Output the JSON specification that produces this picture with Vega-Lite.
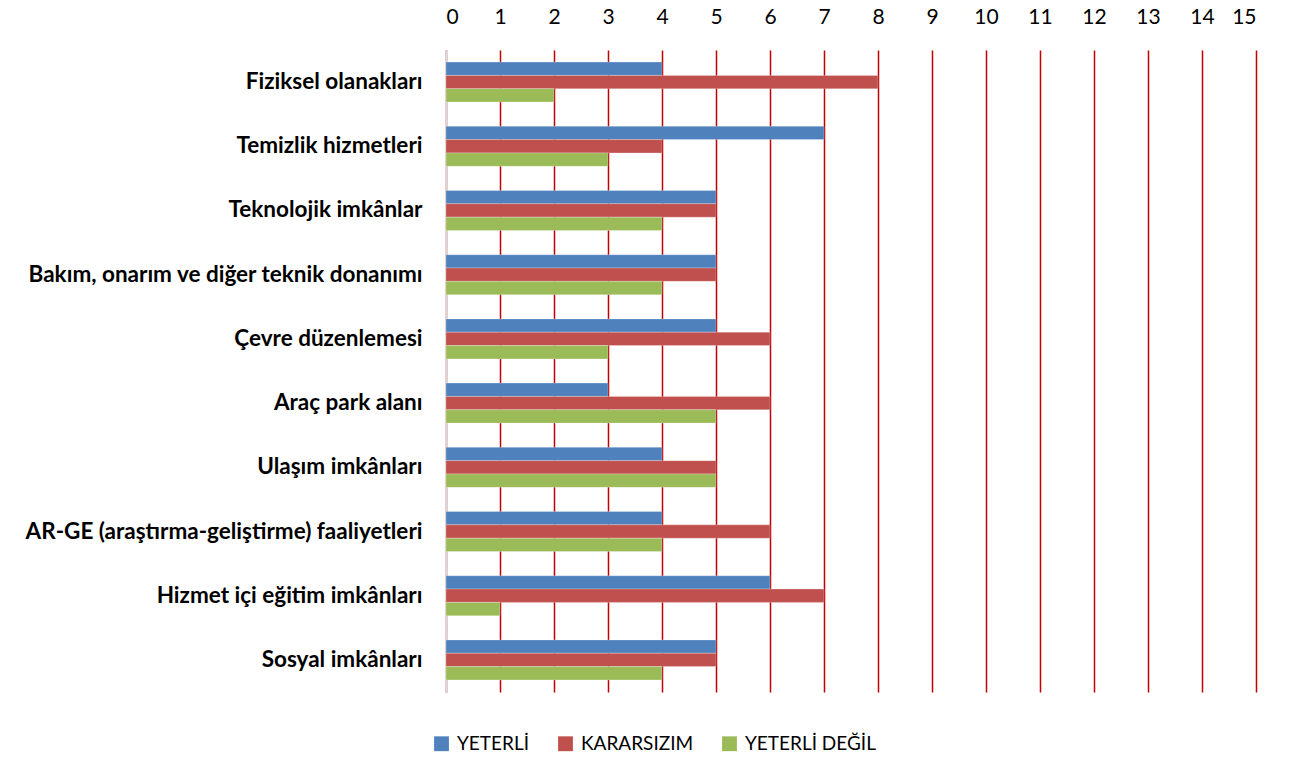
{
  "$schema": "https://vega.github.io/schema/vega-lite/v6.json",
  "width": 810,
  "height": 642,
  "autosize": {"type": "none"},
  "padding": {"left": 446, "top": 50, "right": 46, "bottom": 91},
  "background": "white",
  "config": {
    "view": {"stroke": null},
    "font": "Lato"
  },
  "data": {
    "values": [
      {"k": "Fiziksel olanakları", "s": "YETERLİ", "o": 1, "v": 4},
      {"k": "Fiziksel olanakları", "s": "KARARSIZIM", "o": 2, "v": 8},
      {"k": "Fiziksel olanakları", "s": "YETERLİ DEĞİL", "o": 3, "v": 2},
      {"k": "Temizlik hizmetleri", "s": "YETERLİ", "o": 1, "v": 7},
      {"k": "Temizlik hizmetleri", "s": "KARARSIZIM", "o": 2, "v": 4},
      {"k": "Temizlik hizmetleri", "s": "YETERLİ DEĞİL", "o": 3, "v": 3},
      {"k": "Teknolojik imkânlar", "s": "YETERLİ", "o": 1, "v": 5},
      {"k": "Teknolojik imkânlar", "s": "KARARSIZIM", "o": 2, "v": 5},
      {"k": "Teknolojik imkânlar", "s": "YETERLİ DEĞİL", "o": 3, "v": 4},
      {"k": "Bakım, onarım ve diğer teknik donanımı", "s": "YETERLİ", "o": 1, "v": 5},
      {"k": "Bakım, onarım ve diğer teknik donanımı", "s": "KARARSIZIM", "o": 2, "v": 5},
      {"k": "Bakım, onarım ve diğer teknik donanımı", "s": "YETERLİ DEĞİL", "o": 3, "v": 4},
      {"k": "Çevre düzenlemesi", "s": "YETERLİ", "o": 1, "v": 5},
      {"k": "Çevre düzenlemesi", "s": "KARARSIZIM", "o": 2, "v": 6},
      {"k": "Çevre düzenlemesi", "s": "YETERLİ DEĞİL", "o": 3, "v": 3},
      {"k": "Araç park alanı", "s": "YETERLİ", "o": 1, "v": 3},
      {"k": "Araç park alanı", "s": "KARARSIZIM", "o": 2, "v": 6},
      {"k": "Araç park alanı", "s": "YETERLİ DEĞİL", "o": 3, "v": 5},
      {"k": "Ulaşım imkânları", "s": "YETERLİ", "o": 1, "v": 4},
      {"k": "Ulaşım imkânları", "s": "KARARSIZIM", "o": 2, "v": 5},
      {"k": "Ulaşım imkânları", "s": "YETERLİ DEĞİL", "o": 3, "v": 5},
      {"k": "AR-GE (araştırma-geliştirme) faaliyetleri", "s": "YETERLİ", "o": 1, "v": 4},
      {"k": "AR-GE (araştırma-geliştirme) faaliyetleri", "s": "KARARSIZIM", "o": 2, "v": 6},
      {"k": "AR-GE (araştırma-geliştirme) faaliyetleri", "s": "YETERLİ DEĞİL", "o": 3, "v": 4},
      {"k": "Hizmet içi eğitim imkânları", "s": "YETERLİ", "o": 1, "v": 6},
      {"k": "Hizmet içi eğitim imkânları", "s": "KARARSIZIM", "o": 2, "v": 7},
      {"k": "Hizmet içi eğitim imkânları", "s": "YETERLİ DEĞİL", "o": 3, "v": 1},
      {"k": "Sosyal imkânları", "s": "YETERLİ", "o": 1, "v": 5},
      {"k": "Sosyal imkânları", "s": "KARARSIZIM", "o": 2, "v": 5},
      {"k": "Sosyal imkânları", "s": "YETERLİ DEĞİL", "o": 3, "v": 4}
    ]
  },
  "mark": {"type": "bar", "stroke": "white", "strokeOpacity": 0.5, "strokeWidth": 0.5},
  "encoding": {
    "y": {
      "field": "k",
      "type": "nominal",
      "sort": null,
      "scale": {"paddingInner": 0.377, "paddingOuter": 0.188},
      "axis": {
        "title": null,
        "ticks": false,
        "domainColor": "#D9D9D9",
        "domainWidth": 2,
        "labelFont": "Lato",
        "labelFontSize": 22.5,
        "labelFontWeight": "bold",
        "labelColor": "black",
        "labelPadding": 24,
        "labelLimit": 600
      }
    },
    "yOffset": {"field": "o", "type": "ordinal", "scale": {"paddingInner": 0, "paddingOuter": 0}},
    "x": {
      "field": "v",
      "type": "quantitative",
      "scale": {"domain": [0, 15], "nice": false},
      "axis": {
        "orient": "top",
        "title": null,
        "values": [0,1,2,3,4,5,6,7,8,9,10,11,12,13,14,15],
        "ticks": false,
        "domain": false,
        "grid": true,
        "gridColor": "#C00000",
        "gridWidth": 1.5,
        "labelFont": "Lato",
        "labelFontSize": 21,
        "labelColor": "black",
        "labelPadding": 23
      }
    },
    "color": {
      "field": "s",
      "type": "nominal",
      "sort": ["YETERLİ", "KARARSIZIM", "YETERLİ DEĞİL"],
      "scale": {"domain": ["YETERLİ", "KARARSIZIM", "YETERLİ DEĞİL"], "range": ["#4F81BD", "#C0504D", "#9BBB59"]},
      "legend": {
        "title": null,
        "orient": "none",
        "direction": "horizontal",
        "legendX": -14,
        "legendY": 684,
        "symbolType": "square",
        "symbolSize": 220,
        "symbolStrokeWidth": 0,
        "labelFont": "Lato",
        "labelFontSize": 19,
        "labelColor": "black",
        "labelOffset": 6,
        "columnPadding": 26
      }
    }
  }
}
